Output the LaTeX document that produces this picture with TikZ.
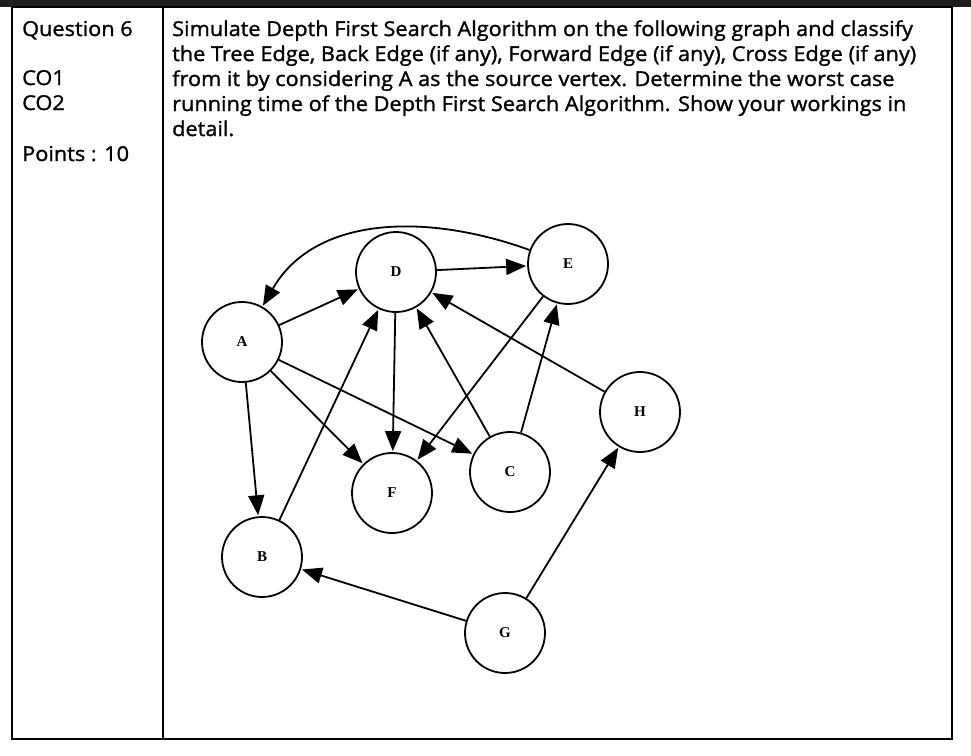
\documentclass[tikz,border=0pt]{standalone}
\usepackage{fontspec}
\setmainfont{Open Sans}[FakeStretch=1.06,FakeBold=1.3]
\newfontfamily\lblfont{Liberation Serif}
\usetikzlibrary{arrows.meta}
\begin{document}
\begin{tikzpicture}[x=1pt,y=-1pt,
  vtx/.style={circle,draw,line width=1.8pt,minimum size=80pt,inner sep=0pt,font=\lblfont\bfseries\fontsize{15}{15}\selectfont},
  edge/.style={line width=1.8pt,-{Triangle[length=20pt,width=16pt]},shorten >=1pt},
  txt/.style={anchor=base west,inner sep=0pt,font=\fontsize{20.5}{24}\selectfont}]
\useasboundingbox (0,0) rectangle (971,755);
\fill[black!88] (0,0) rectangle (971,7);
\draw[line width=1.6pt] (12,7) rectangle (952,739);
\draw[line width=1.6pt] (163,7) -- (163,739);
\node[txt] (q) at (22,36) {Question 6};
\node[txt] (c1) at (22,85) {CO1};
\node[txt] (c2) at (22,110) {CO2};
\node[txt] (p) at (22,161) {Points : 10};
\node[txt] (l1) at (172,36) {Simulate Depth First Search Algorithm on the following graph and classify};
\node[txt] (l2) at (172,61) {the Tree Edge, Back Edge (if any), Forward Edge (if any), Cross Edge (if any)};
\node[txt] (l3) at (172,86) {from it by considering A as the source vertex. Determine the worst case};
\node[txt] (l4) at (172,111) {running time of the Depth First Search Algorithm. Show your workings in};
\node[txt] (l5) at (172,136) {detail.};
\node[vtx] (D) at (396,272) {D};
\node[vtx] (E) at (568,264) {E};
\node[vtx] (A) at (242,342) {A};
\node[vtx] (H) at (640,412) {H};
\node[vtx] (C) at (510,472) {C};
\node[vtx] (F) at (392,493) {F};
\node[vtx] (B) at (262,557) {B};
\node[vtx] (G) at (505,633) {G};
\draw[edge] (E) to[out=160,in=60] (A);
\draw[edge] (A) -- (D);
\draw[edge] (D) -- (E);
\draw[edge] (D) -- (F);
\draw[edge] (B) -- (D);
\draw[edge] (A) -- (F);
\draw[edge] (A) -- (C);
\draw[edge] (C) -- (D);
\draw[edge] (E) -- (F);
\draw[edge] (C) -- (E);
\draw[edge] (H) -- (D);
\draw[edge] (G) -- (B);
\draw[edge] (G) -- (H);
\draw[edge] (A) -- (B);
\end{tikzpicture}
\end{document}
